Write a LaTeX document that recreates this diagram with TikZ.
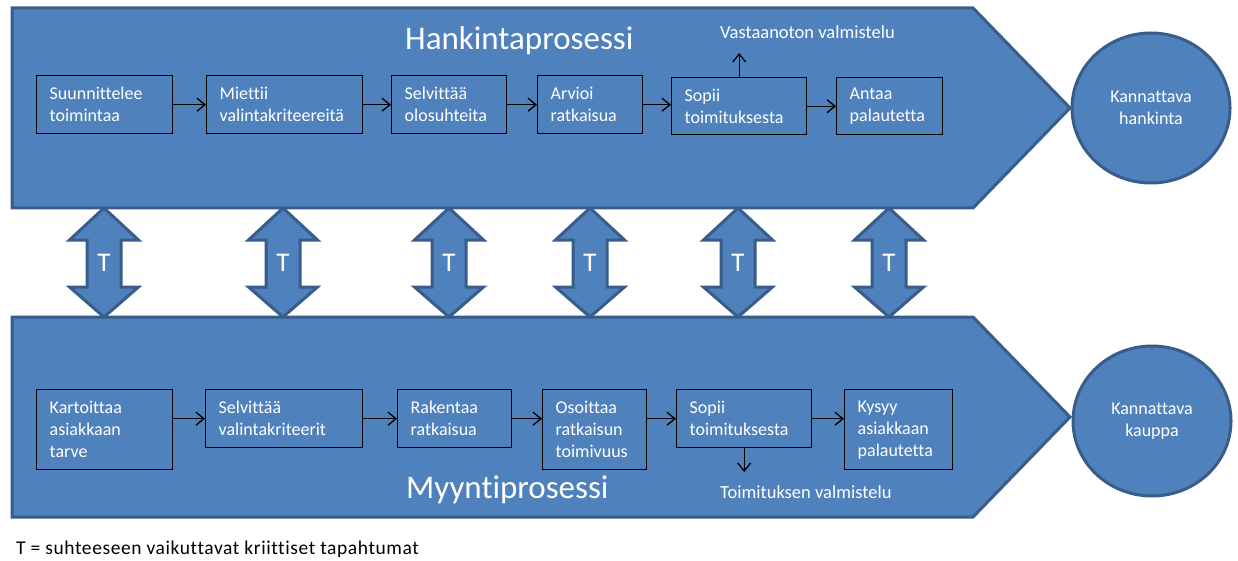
\documentclass[tikz,border=0pt]{standalone}
\usepackage{fontspec}
\setmainfont{Carlito}[Ligatures=NoCommon]
\newfontfamily\legendfont{Carlito}[Ligatures=NoCommon, LetterSpace=3]
\usetikzlibrary{arrows.meta,shapes.geometric,calc}
\definecolor{bandfill}{HTML}{4F81BD}
\definecolor{bandline}{HTML}{385D8A}
\hyphenpenalty=10000
\exhyphenpenalty=10000

\tikzset{
  band/.style={fill=bandfill, draw=bandline, line width=3pt, line join=miter},
  goal/.style={ellipse, fill=bandfill, draw=bandline, line width=3pt,
    minimum width=158pt, minimum height=150pt, inner sep=0pt, align=center,
    text=white, font=\fontsize{18}{22}\selectfont},
  stepbox/.style={draw=black, line width=1.4pt, anchor=north west,
    inner xsep=13pt, inner ysep=0pt, align=left, text=white,
    font=\fontsize{18}{22}\selectfont},
  conn/.style={draw=black, line width=1.3pt, -{Straight Barb[length=8pt,width=13pt]}},
  title/.style={text=white, font=\fontsize{33}{38}\selectfont, anchor=base west, inner sep=0pt},
  note/.style={text=white, font=\fontsize{18.5}{22}\selectfont, anchor=base west, inner sep=0pt},
  tie/.style={fill=bandfill, draw=bandline, line width=3pt, line join=miter},
  tlabel/.style={text=white, font=\fontsize{27}{32}\selectfont, inner sep=0pt},
}

\begin{document}
\begin{tikzpicture}[x=1pt,y=-1pt]
\useasboundingbox (0,0) rectangle (1238,561);

% two-headed links between the processes
\foreach \x [count=\i] in {104,283,449,590,738,889} {
  \draw[tie] (\x,208) -- (\x+34.5,240) -- (\x+17,240) -- (\x+17,287)
    -- (\x+34.5,287) -- (\x,317) -- (\x-34.5,287) -- (\x-17,287)
    -- (\x-17,240) -- (\x-34.5,240) -- cycle;
  \node[tlabel] (t\i) at (\x,263) {T};
}

% process bands
\draw[band] (12,8) -- (973,8) -- (1070,108) -- (973,208) -- (12,208) -- cycle;
\draw[band] (12,317) -- (973,317) -- (1070,417) -- (973,517) -- (12,517) -- cycle;

% goals
\node[goal] (g1) at (1151,108) {Kannattava\\hankinta};
\node[goal] (g2) at (1152,421) {Kannattava\\kauppa};

% titles
\node[title] (hp) at (405,50) {Hankintaprosessi};
\node[title] (mp) at (406,498) {Myyntiprosessi};

% purchasing steps
\node[stepbox, text width=110pt, minimum height=58pt] (h1) at (36,75) {Suunnittelee\\toimintaa};
\node[stepbox, text width=130pt, minimum height=58pt] (h2) at (206,75) {Miettii\\valintakriteereitä};
\node[stepbox, text width=89pt, minimum height=58pt] (h3) at (391,75) {Selvittää\\olosuhteita};
\node[stepbox, text width=79pt, minimum height=58pt] (h4) at (537,75) {Arvioi\\ratkaisua};
\node[stepbox, text width=109pt, minimum height=57pt] (h5) at (671,77) {Sopii\\toimituksesta};
\node[stepbox, text width=80pt, minimum height=57pt] (h6) at (836,77) {Antaa\\palautetta};

\draw[conn] (h1) -- (h2);
\draw[conn] (h2) -- (h3);
\draw[conn] (h3) -- (h4);
\draw[conn] (h4.east) -- (h4.east -| h5.west);
\draw[conn] (h5) -- (h6);

\node[note] (vast) at (720,39) {Vastaanoton valmistelu};
\coordinate (vtip) at (738,53);
\draw[conn] (h5.north) -- (h5.north |- vtip);

% sales steps
\node[stepbox, text width=110pt, minimum height=80pt] (m1) at (36,389) {Kartoittaa\\asiakkaan\\tarve};
\node[stepbox, text width=131pt, minimum height=58pt] (m2) at (205,389) {Selvittää\\valintakriteerit};
\node[stepbox, text width=88pt, minimum height=58pt] (m3) at (397,389) {Rakentaa\\ratkaisua};
\node[stepbox, text width=78pt, minimum height=80pt] (m4) at (542,389) {Osoittaa\\ratkaisun\\toimivuus};
\node[stepbox, text width=109pt, minimum height=58pt] (m5) at (676,389) {Sopii\\toimituksesta};
\node[stepbox, text width=82pt, minimum height=80pt] (m6) at (844,389) {Kysyy\\asiakkaan\\palautetta};

\draw[conn] (m2.west -| m1.east) -- (m2.west);
\draw[conn] (m2) -- (m3);
\draw[conn] (m3.east) -- (m3.east -| m4.west);
\draw[conn] (m5.west -| m4.east) -- (m5.west);
\draw[conn] (m5.east) -- (m5.east -| m6.west);

\node[note] (toim) at (720,498) {Toimituksen valmistelu};
\coordinate (ttip) at (744,472);
\draw[conn] (m5.south) -- (m5.south |- ttip);

% legend
\node[anchor=base west, inner sep=0pt, font=\legendfont\fontsize{19.5}{23}\selectfont] (legend) at (16,554)
  {T = suhteeseen vaikuttavat kriittiset tapahtumat};
\end{tikzpicture}
\end{document}
